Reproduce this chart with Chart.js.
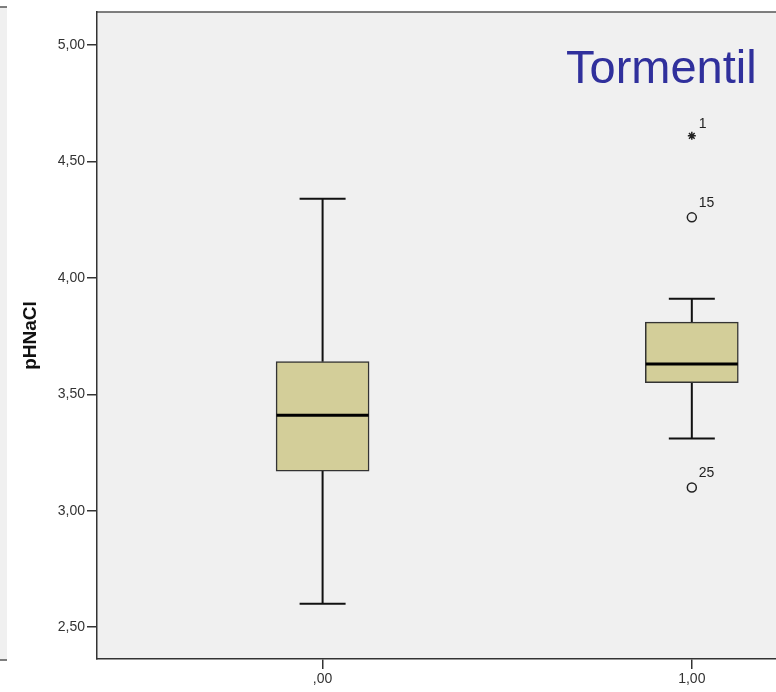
<!DOCTYPE html>
<html>
<head>
<meta charset="utf-8">
<script src="https://cdn.jsdelivr.net/npm/chart.js@4/dist/chart.umd.min.js"></script>
<style>
  html, body { margin: 0; padding: 0; background: #fff; }
  #wrap { width: 776px; height: 692px; position: relative; }
</style>
</head>
<body>
<div id="wrap"><canvas id="boxChart" width="776" height="692"></canvas></div>
<script>
// groups on the x axis and their labels
var groups = [0, 1];
var groupLabels = [',00', '1,00'];
// box plot values per group
var whiskerLow = [2.60, 3.31];
var q1 = [3.17, 3.55];
var median = [3.41, 3.63];
var q3 = [3.64, 3.81];
var whiskerHigh = [4.34, 3.91];
// outliers (circles) and extremes (stars)
var outlierGroup = [1, 1];
var outlierValues = [4.26, 3.10];
var outlierIds = ['15', '25'];
var extremeGroup = [1];
var extremeValues = [4.61];
var extremeIds = ['1'];
// y tick labels
var yTicks = [2.5, 3.0, 3.5, 4.0, 4.5, 5.0];

var boxes = groups.map(function(g, i){ return {x: g, y: [q1[i], q3[i]]}; });
var outliers = outlierGroup.map(function(g, i){ return {x: g, y: outlierValues[i]}; });
var extremes = extremeGroup.map(function(g, i){ return {x: g, y: extremeValues[i]}; });

//background, left remnant panel and top frame line
var framePlugin = {
    id: 'frame',
    beforeDraw: function(chart){
        var c = chart.ctx, a = chart.chartArea;
        c.save();
        c.fillStyle = '#f0f0f0';
        c.fillRect(a.left, a.top, a.right - a.left, a.bottom - a.top);
        c.fillRect(0, 7, 7, 653);
        c.strokeStyle = '#555';
        c.lineWidth = 1.5;
        c.beginPath();
        c.moveTo(0, 7); c.lineTo(7, 7);
        c.moveTo(0, 660); c.lineTo(7, 660);
        c.moveTo(a.left, a.top); c.lineTo(776, a.top);
        c.stroke();
        c.restore();
    }
};

// whiskers under the boxes, medians over them, outlier ids
var boxPlugin = {
    id: 'boxParts',
    beforeDatasetsDraw: function(chart){
        var c = chart.ctx, xs = chart.scales.x, ys = chart.scales.y;
        c.save();
        c.strokeStyle = '#111';
        c.lineWidth = 2;
        groups.forEach(function(g, i){
            var px = xs.getPixelForValue(g);
            c.beginPath();
            c.moveTo(px, ys.getPixelForValue(q3[i]));
            c.lineTo(px, ys.getPixelForValue(whiskerHigh[i]));
            c.moveTo(px, ys.getPixelForValue(q1[i]));
            c.lineTo(px, ys.getPixelForValue(whiskerLow[i]));
            c.moveTo(px - 23, ys.getPixelForValue(whiskerHigh[i]));
            c.lineTo(px + 23, ys.getPixelForValue(whiskerHigh[i]));
            c.moveTo(px - 23, ys.getPixelForValue(whiskerLow[i]));
            c.lineTo(px + 23, ys.getPixelForValue(whiskerLow[i]));
            c.stroke();
        });
        c.restore();
    },
    afterDatasetsDraw: function(chart){
        var c = chart.ctx, xs = chart.scales.x, ys = chart.scales.y;
        c.save();
        c.strokeStyle = '#000';
        c.lineWidth = 3;
        groups.forEach(function(g, i){
            var px = xs.getPixelForValue(g);
            var py = ys.getPixelForValue(median[i]);
            c.beginPath();
            c.moveTo(px - 46, py);
            c.lineTo(px + 46, py);
            c.stroke();
        });
        c.fillStyle = '#222';
        c.font = '14px "Liberation Sans", Arial, sans-serif';
        c.textBaseline = 'middle';
        c.textAlign = 'left';
        outliers.forEach(function(p, i){
            c.fillText(outlierIds[i], xs.getPixelForValue(p.x) + 7, ys.getPixelForValue(p.y) - 14);
        });
        extremes.forEach(function(p, i){
            c.fillText(extremeIds[i], xs.getPixelForValue(p.x) + 7, ys.getPixelForValue(p.y) - 12);
        });
        // title inside plot
        c.fillStyle = '#30309c';
        c.font = '47px "Liberation Sans", Arial, sans-serif';
        c.textBaseline = 'alphabetic';
        c.fillText('Tormentil', 566, 83);
        c.restore();
    }
};

var ctx = document.getElementById('boxChart');
var boxChart = new Chart(ctx, {
    type: 'bar',
    data: {
        datasets: [{
            type: 'bar',
            data: boxes,
            backgroundColor: '#d3ce99',
            borderColor: '#333',
            borderWidth: 1.5,
            borderSkipped: false,
            barThickness: 93
        }, {
            type: 'scatter',
            data: outliers,
            pointStyle: 'circle',
            pointRadius: 4.5,
            backgroundColor: '#f0f0f0',
            borderColor: '#222',
            borderWidth: 1.5
        }, {
            type: 'scatter',
            data: extremes,
            pointStyle: 'star',
            pointRadius: 4,
            borderColor: '#222',
            borderWidth: 1.5
        }]
    },
    options: {
        responsive: false,
        animation: false,
        events: [],
        layout: { autoPadding: false, padding: { top: 12, right: 0, left: 0, bottom: 0 } },
        plugins: { legend: { display: false }, tooltip: { enabled: false } },
        scales: {
            x: {
                type: 'linear',
                offset: false,
                min: -0.611,
                max: 1.228,
                afterBuildTicks: function(scale){
                    scale.ticks = groups.map(function(g){ return {value: g}; });
                },
                afterFit: function(scale){ scale.height = 33; },
                ticks: {
                    color: '#333',
                    font: { family: '"Liberation Sans", Arial, sans-serif', size: 14 },
                    padding: 2,
                    maxRotation: 0,
                    callback: function(v){ return groupLabels[groups.indexOf(v)]; }
                },
                grid: { offset: false, drawOnChartArea: false, drawTicks: true, tickLength: 10, color: '#333', lineWidth: 1.5 },
                border: { display: true, color: '#333', width: 1.5 }
            },
            y: {
                min: 2.363,
                max: 5.142,
                afterBuildTicks: function(scale){
                    scale.ticks = yTicks.map(function(v){ return {value: v}; });
                },
                afterFit: function(scale){ scale.width = 97; },
                ticks: {
                    color: '#333',
                    font: { family: '"Liberation Sans", Arial, sans-serif', size: 14 },
                    padding: 2,
                    callback: function(v){ return v.toFixed(2).replace('.', ','); }
                },
                grid: { drawOnChartArea: false, drawTicks: true, tickLength: 10, color: '#333', lineWidth: 1.5 },
                border: { display: true, color: '#333', width: 1.5 },
                title: {
                    display: true,
                    text: 'pHNaCl',
                    color: '#111',
                    font: { family: '"Liberation Sans", Arial, sans-serif', size: 19, weight: 'bold' },
                    padding: { top: 19, bottom: 0 }
                }
            }
        }
    },
    plugins: [framePlugin, boxPlugin]
});
</script>
</body>
</html>
